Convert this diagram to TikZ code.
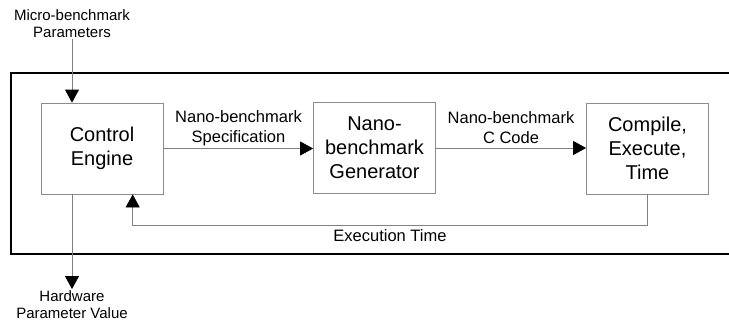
\documentclass[tikz,border=0pt]{standalone}
\usepackage{fontspec}
\setmainfont{Liberation Sans}
\usetikzlibrary{arrows.meta,calc}
\begin{document}
\begin{tikzpicture}[x=1pt,y=-1pt,
  blk/.style={draw=black!45,line width=0.8pt,minimum width=122pt,minimum height=91pt,inner sep=0pt,align=center,font=\fontsize{20}{24}\selectfont},
  lbl/.style={align=center,inner sep=1pt,font=\fontsize{16.5}{20}\selectfont},
  ext/.style={align=center,inner sep=1pt,font=\fontsize{15}{17.5}\selectfont},
  conn/.style={draw=black!50,line width=0.8pt,-{Triangle[length=13pt,width=14pt,color=black]}},
  frame/.style={draw=black,line width=2.5pt}]
\useasboundingbox (0,0) rectangle (729,322);
\clip (0,0) rectangle (729,322);
\draw[frame] (11,73) rectangle (760,254);
\node[blk] (ctrl) at (102,148.5) {Control\\Engine};
\node[blk] (gen) at (374.5,148) {Nano-\\benchmark\\Generator};
\node[blk] (comp) at (647.5,148.5) {Compile,\\Execute,\\Time};
\node[ext] (in) at (72,23.5) {Micro-benchmark\\Parameters};
\node[ext] (out) at (72,304.5) {Hardware\\Parameter Value};
\node[lbl] (spec) at (238.5,128) {Nano-benchmark\\Specification};
\node[lbl] (code) at (511,128) {Nano-benchmark\\C Code};
\node[lbl] (et) at (390,236) {Execution Time};
\coordinate (fb) at ($(ctrl.south)!0.5!(ctrl.south east)$);
\draw[conn] (in.south) -- (in.south |- ctrl.north);
\draw[conn] (out.north |- ctrl.south) -- (out.north);
\draw[conn] (ctrl.east) -- (ctrl.east -| gen.west);
\draw[conn] (gen.east) -- (gen.east -| comp.west);
\draw[conn] (comp.south) -- ++(0,31) -| (fb);
\end{tikzpicture}
\end{document}
